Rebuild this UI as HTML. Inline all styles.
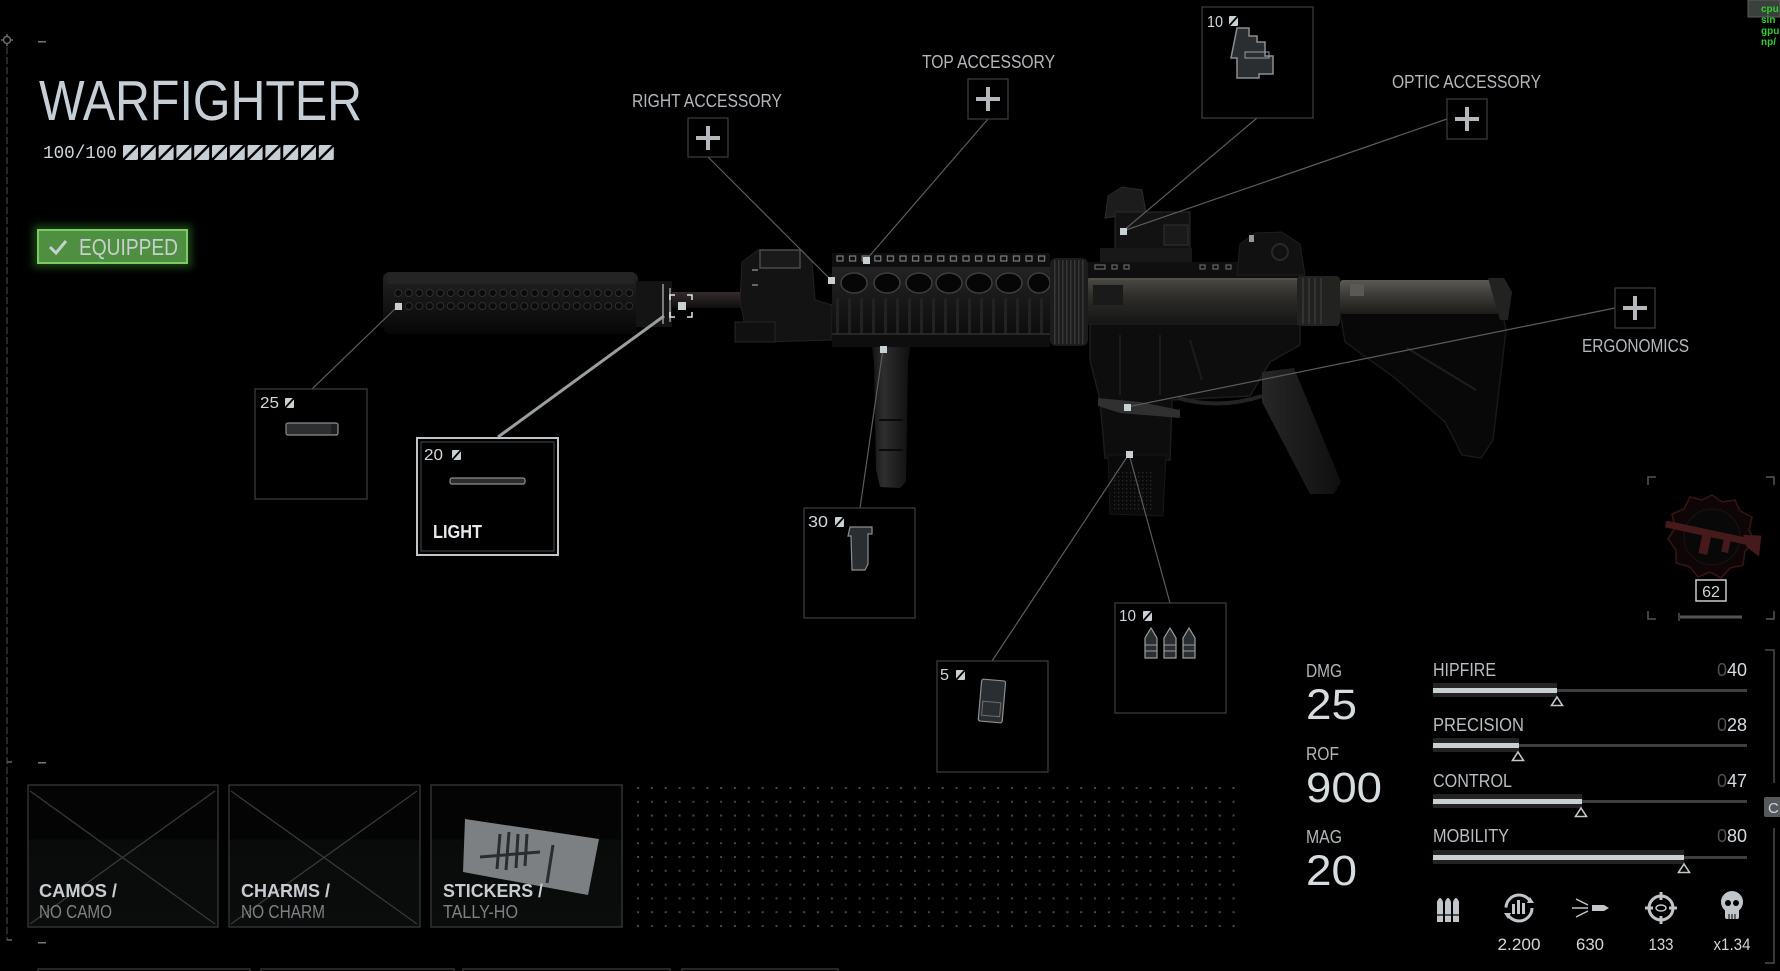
<!DOCTYPE html>
<html><head><meta charset="utf-8">
<style>
html,body{margin:0;padding:0;background:#000;overflow:hidden;}
svg{display:block;}
text{font-family:"Liberation Sans",sans-serif;}
.mono{font-family:"Liberation Mono","DejaVu Sans Mono",monospace;}
</style></head><body>
<svg width="1780" height="971" viewBox="0 0 1780 971" xmlns="http://www.w3.org/2000/svg">
<defs>
  <linearGradient id="gSup" x1="0" y1="0" x2="0" y2="1">
    <stop offset="0" stop-color="#242424"/><stop offset="0.3" stop-color="#1a1a1a"/>
    <stop offset="0.75" stop-color="#0e0e0e"/><stop offset="1" stop-color="#060606"/>
  </linearGradient>
  <linearGradient id="gUpper" x1="0" y1="0" x2="0" y2="1">
    <stop offset="0" stop-color="#4a4944"/><stop offset="0.4" stop-color="#2e2d2a"/>
    <stop offset="1" stop-color="#141413"/>
  </linearGradient>
  <linearGradient id="gTube" x1="0" y1="0" x2="0" y2="1">
    <stop offset="0" stop-color="#5a5953"/><stop offset="0.35" stop-color="#42413c"/>
    <stop offset="1" stop-color="#1c1b19"/>
  </linearGradient>
  <linearGradient id="gHand" x1="0" y1="0" x2="0" y2="1">
    <stop offset="0" stop-color="#232323"/><stop offset="1" stop-color="#0c0c0c"/>
  </linearGradient>
  <linearGradient id="gBarrel" x1="0" y1="0" x2="0" y2="1">
    <stop offset="0" stop-color="#342c2c"/><stop offset="1" stop-color="#100d0d"/>
  </linearGradient>
  <linearGradient id="gGrip" x1="0" y1="0" x2="1" y2="0">
    <stop offset="0" stop-color="#262626"/><stop offset="1" stop-color="#0f0f0f"/>
  </linearGradient>
  <linearGradient id="gFore" x1="0" y1="0" x2="1" y2="0">
    <stop offset="0" stop-color="#121212"/><stop offset="0.3" stop-color="#2e2e2e"/><stop offset="1" stop-color="#101010"/>
  </linearGradient>
  <linearGradient id="gBox" x1="0" y1="0" x2="0" y2="1">
    <stop offset="0" stop-color="#040404"/><stop offset="0.38" stop-color="#040404"/>
    <stop offset="0.39" stop-color="#090b0b"/><stop offset="1" stop-color="#0b0d0d"/>
  </linearGradient>
  <pattern id="dots" x="637" y="787" width="13.85" height="13.8" patternUnits="userSpaceOnUse">
    <rect width="2" height="2" fill="#474747"/>
  </pattern>
  <pattern id="holes" x="393" y="287" width="10.5" height="13" patternUnits="userSpaceOnUse">
    <circle cx="5.25" cy="6" r="3.5" fill="#0a0a0a" stroke="#2e2e2e" stroke-width="1"/>
  </pattern>
  <pattern id="rail" x="836" y="255" width="12.6" height="8" patternUnits="userSpaceOnUse">
    <rect x="1" y="1" width="6" height="5" fill="none" stroke="#7a7e7e" stroke-width="1.2"/>
  </pattern>
  <pattern id="ribs" x="836" y="300" width="12" height="40" patternUnits="userSpaceOnUse">
    <rect x="0" y="0" width="3" height="40" fill="#222"/>
  </pattern>
  <pattern id="nut" x="1050" y="258" width="4" height="10" patternUnits="userSpaceOnUse">
    <rect x="0" y="0" width="1.5" height="10" fill="#383838"/>
  </pattern>
  <pattern id="magdots" x="1110" y="460" width="4" height="4" patternUnits="userSpaceOnUse">
    <rect width="1.3" height="1.3" fill="#2a2a2a"/>
  </pattern>
  <filter id="glow" x="-20%" y="-50%" width="140%" height="200%">
    <feGaussianBlur stdDeviation="4"/>
  </filter>
</defs>

<rect width="1780" height="971" fill="#000"/>

<!-- left frame -->
<line x1="7" y1="47" x2="7" y2="940" stroke="#353535" stroke-width="1.5" stroke-dasharray="7 3"/>
<circle cx="7" cy="40" r="3.5" fill="none" stroke="#6a6a6a" stroke-width="1.5"/>
<path d="M7 34v3M7 43v3M1 40h3M10 40h3" stroke="#6a6a6a" stroke-width="1.5"/>
<rect x="38" y="41" width="8" height="1.5" fill="#777"/>
<path d="M7 762h5" stroke="#666" stroke-width="1.5"/>
<path d="M7 940h5" stroke="#666" stroke-width="1.5"/>
<rect x="38" y="762" width="8" height="1.5" fill="#777"/>
<rect x="38" y="942" width="8" height="1.5" fill="#777"/>

<!-- title -->
<text x="39" y="120" font-size="57" fill="#c6cfd5" textLength="323" lengthAdjust="spacingAndGlyphs">WARFIGHTER</text>
<text x="43" y="158" font-size="18" class="mono" fill="#d0d6da" textLength="74" lengthAdjust="spacingAndGlyphs">100/100</text>
<g fill="#c6cfd5">
  <rect x="123" y="145" width="15" height="15" rx="1.5"/><rect x="140.8" y="145" width="15" height="15" rx="1.5"/>
  <rect x="158.6" y="145" width="15" height="15" rx="1.5"/><rect x="176.4" y="145" width="15" height="15" rx="1.5"/>
  <rect x="194.2" y="145" width="15" height="15" rx="1.5"/><rect x="212" y="145" width="15" height="15" rx="1.5"/>
  <rect x="229.8" y="145" width="15" height="15" rx="1.5"/><rect x="247.6" y="145" width="15" height="15" rx="1.5"/>
  <rect x="265.4" y="145" width="15" height="15" rx="1.5"/><rect x="283.2" y="145" width="15" height="15" rx="1.5"/>
  <rect x="301" y="145" width="15" height="15" rx="1.5"/><rect x="318.8" y="145" width="15" height="15" rx="1.5"/>
</g>
<g stroke="#000" stroke-width="2.5">
  <path d="M123 160L138 145M140.8 160L155.8 145M158.6 160L173.6 145M176.4 160L191.4 145M194.2 160L209.2 145M212 160L227 145M229.8 160L244.8 145M247.6 160L262.6 145M265.4 160L280.4 145M283.2 160L298.2 145M301 160L316 145M318.8 160L333.8 145"/>
</g>

<!-- equipped -->
<rect x="33" y="225" width="159" height="43" fill="#3f8a30" opacity="0.45" filter="url(#glow)"/>
<rect x="38" y="230" width="149" height="33" fill="#4f8f42" stroke="#7acd62" stroke-width="2"/>
<path d="M50 247L56 253L66 241" fill="none" stroke="#c8d0cc" stroke-width="3"/>
<text x="79" y="255" font-size="23" fill="#c8d0cc" textLength="99" lengthAdjust="spacingAndGlyphs">EQUIPPED</text>

<!-- ===== GUN ===== -->
<g>
  <!-- stock lower body -->
  <polygon points="1340,312 1500,300 1506,330 1493,440 1481,458 1462,455 1445,422 1395,378 1345,342" fill="#080808" stroke="#181818" stroke-width="1.5"/>
  <path d="M1407 348L1476 390" stroke="#1e1e1e" stroke-width="2"/>
  <!-- suppressor -->
  <rect x="383" y="272" width="255" height="62" rx="7" fill="url(#gSup)"/>
  <rect x="388" y="273" width="246" height="11" fill="#262626" opacity="0.8"/>
  <rect x="393" y="287" width="240" height="26" fill="url(#holes)"/>
  <rect x="636" y="281" width="36" height="46" fill="#141414"/>
  <path d="M663 284v40M670 288v34" stroke="#7a7a7a" stroke-width="2"/>
  <!-- barrel -->
  <rect x="672" y="292" width="100" height="16" fill="url(#gBarrel)"/>
  <!-- front sight -->
  <polygon points="742,262 758,250 802,250 812,262 815,300 832,305 832,340 762,342 746,332 740,300" fill="#131313" stroke="#222"/>
  <rect x="760" y="250" width="40" height="18" fill="#1a1a1a" stroke="#4a4a4a" stroke-width="1.5"/>
  <rect x="735" y="322" width="40" height="20" fill="#101010" stroke="#262626"/>
  <path d="M752 270h6M752 285h6" stroke="#666" stroke-width="2"/>
  <!-- handguard -->
  <rect x="832" y="253" width="218" height="15" fill="#0e0e0e"/>
  <rect x="836" y="255" width="210" height="8" fill="url(#rail)"/>
  <rect x="832" y="267" width="218" height="70" fill="url(#gHand)"/>
  <g fill="#060606" stroke="#3e3e3e" stroke-width="1.5">
    <ellipse cx="854" cy="283" rx="13" ry="10"/><ellipse cx="887" cy="283" rx="13" ry="10"/>
    <ellipse cx="919" cy="283" rx="13" ry="10"/><ellipse cx="949" cy="283" rx="13" ry="10"/>
    <ellipse cx="979" cy="283" rx="13" ry="10"/><ellipse cx="1009" cy="283" rx="13" ry="10"/>
    <ellipse cx="1039" cy="283" rx="11" ry="10"/>
  </g>
  <rect x="836" y="298" width="210" height="36" fill="url(#ribs)"/>
  <rect x="832" y="334" width="218" height="13" fill="#0e0e0e"/>
  <path d="M832 334h218" stroke="#2e2e2e" stroke-width="1.5"/>
  <!-- barrel nut -->
  <rect x="1050" y="258" width="38" height="88" rx="6" fill="#1c1c1c"/>
  <rect x="1052" y="260" width="34" height="84" fill="url(#nut)"/>
  <!-- upper receiver -->
  <rect x="1088" y="262" width="215" height="17" fill="#0f0f0f"/>
  <g fill="none" stroke="#666" stroke-width="1.2">
    <rect x="1095" y="265" width="10" height="4"/><rect x="1112" y="265" width="5" height="4"/><rect x="1124" y="265" width="5" height="4"/>
    <rect x="1200" y="265" width="5" height="4"/><rect x="1213" y="265" width="5" height="4"/><rect x="1226" y="265" width="5" height="4"/>
  </g>
  <rect x="1088" y="278" width="212" height="47" fill="url(#gUpper)"/>
  <path d="M1090 279h208" stroke="#55544e" stroke-width="1.5"/>
  <rect x="1093" y="285" width="30" height="20" fill="#1a1a1a"/>
  <!-- optic -->
  <path d="M1105 218L1108 196L1122 187L1142 190L1146 212Z" fill="#1c1c1c" stroke="#2a2a2a"/>
  <rect x="1115" y="212" width="75" height="40" fill="#121212" stroke="#2a2a2a"/>
  <rect x="1100" y="248" width="92" height="14" fill="#181818"/>
  <rect x="1164" y="225" width="24" height="20" fill="#1a1a1a" stroke="#333"/>
  <!-- rear sight -->
  <polygon points="1237,275 1240,244 1255,233 1282,232 1300,244 1305,275" fill="#111" stroke="#1e1e1e"/>
  <rect x="1249" y="235" width="5" height="7" fill="#999"/>
  <circle cx="1280" cy="252" r="8" fill="none" stroke="#2a2a2a" stroke-width="2"/>
  <!-- lower receiver -->
  <polygon points="1090,324 1300,324 1300,345 1270,362 1250,396 1172,400 1170,460 1105,458 1100,400 1090,360" fill="#0d0d0d" stroke="#1c1c1c" stroke-width="1.5"/>
  <path d="M1120 335v60M1160 335v60M1190 340l12 40" stroke="#1c1c1c" stroke-width="2"/>
  <path d="M1178 398Q1220 410 1262 396" fill="none" stroke="#242424" stroke-width="4"/>
  <polygon points="1098,398 1140,402 1180,410 1180,418 1120,413 1098,406" fill="#303030"/>
  <!-- magazine -->
  <polygon points="1108,455 1166,455 1163,516 1110,514" fill="#0a0a0a" stroke="#161616"/>
  <rect x="1112" y="470" width="40" height="40" fill="url(#magdots)"/>
  <!-- pistol grip -->
  <polygon points="1262,372 1294,368 1341,482 1334,494 1310,494 1262,402" fill="url(#gGrip)"/>
  <!-- buffer ring + tube -->
  <rect x="1297" y="276" width="43" height="50" rx="4" fill="#222220"/>
  <path d="M1303 278v46M1309 278v46M1315 278v46M1321 278v46" stroke="#34332f" stroke-width="2"/>
  <rect x="1340" y="280" width="162" height="34" rx="3" fill="url(#gTube)"/>
  <rect x="1350" y="284" width="14" height="12" fill="#5a5954"/>
  <polygon points="1488,278 1504,278 1512,292 1508,320 1500,320" fill="#222220"/>
  <!-- foregrip -->
  <polygon points="872,347 910,347 908,362 906,482 900,488 880,487 876,470 874,362" fill="url(#gFore)"/>
  <path d="M879 420h24M879 450h24" stroke="#0a0a0a" stroke-width="2"/>
</g>

<!-- connectors -->
<g stroke="#5c5c5c" stroke-width="1.2" fill="none">
  <line x1="312" y1="389" x2="398" y2="306"/>
  <line x1="708" y1="157" x2="831" y2="280"/>
  <line x1="988" y1="119" x2="866" y2="260"/>
  <line x1="1257" y1="118" x2="1123" y2="231"/>
  <line x1="1447" y1="119" x2="1123" y2="231"/>
  <line x1="1615" y1="308" x2="1127" y2="407"/>
  <line x1="860" y1="508" x2="883" y2="349"/>
  <line x1="992" y1="661" x2="1129" y2="454"/>
  <line x1="1170" y1="603" x2="1129" y2="454"/>
</g>
<line x1="498" y1="437" x2="664" y2="316" stroke="#9a9ea0" stroke-width="3"/>

<!-- dots -->
<g fill="#c8d0d4">
  <rect x="395" y="303" width="7" height="7"/>
  <rect x="678" y="302" width="8" height="8"/>
  <rect x="828" y="277" width="7" height="7"/>
  <rect x="863" y="257" width="7" height="7"/>
  <rect x="1120" y="228" width="7" height="7"/>
  <rect x="880" y="346" width="7" height="7"/>
  <rect x="1124" y="404" width="7" height="7"/>
  <rect x="1126" y="451" width="7" height="7"/>
</g>
<path d="M670 300v-5h5M687 295h5v5M692 312v5h-5M675 317h-5v-5" fill="none" stroke="#e0e4e6" stroke-width="1.5"/>

<!-- plus boxes -->
<g fill="#000" stroke="#3e4042" stroke-width="1.2">
  <rect x="688" y="118" width="40" height="39"/>
  <rect x="968" y="79" width="40" height="40"/>
  <rect x="1447" y="99" width="40" height="40"/>
  <rect x="1615" y="288" width="40" height="40"/>
</g>
<g fill="#b4b8bc">
  <rect x="696" y="136" width="24" height="4"/><rect x="706" y="126" width="4" height="24"/>
  <rect x="976" y="97" width="24" height="4"/><rect x="986" y="87" width="4" height="24"/>
  <rect x="1455" y="117" width="24" height="4"/><rect x="1465" y="107" width="4" height="24"/>
  <rect x="1623" y="306" width="24" height="4"/><rect x="1633" y="296" width="4" height="24"/>
</g>
<g fill="#b4b8bc" font-size="18">
  <text x="632" y="107" textLength="150" lengthAdjust="spacingAndGlyphs">RIGHT ACCESSORY</text>
  <text x="922" y="68" textLength="133" lengthAdjust="spacingAndGlyphs">TOP ACCESSORY</text>
  <text x="1392" y="88" textLength="149" lengthAdjust="spacingAndGlyphs">OPTIC ACCESSORY</text>
  <text x="1582" y="352" textLength="107" lengthAdjust="spacingAndGlyphs">ERGONOMICS</text>
</g>

<!-- item boxes -->
<g fill="#000" stroke="#3e4042" stroke-width="1.2">
  <rect x="255" y="389" width="112" height="110"/>
  <rect x="804" y="508" width="111" height="110"/>
  <rect x="937" y="661" width="111" height="111"/>
  <rect x="1115" y="603" width="111" height="110"/>
  <rect x="1202" y="7" width="111" height="111"/>
</g>
<rect x="417" y="438" width="141" height="117" fill="#000" stroke="#c0c4c6" stroke-width="2"/>
<rect x="421" y="442" width="133" height="109" fill="none" stroke="#4a4c4e" stroke-width="1"/>

<g fill="#d0d6da" font-size="16">
  <text x="260" y="408" textLength="19" lengthAdjust="spacingAndGlyphs">25</text>
  <text x="424" y="460" textLength="19" lengthAdjust="spacingAndGlyphs">20</text>
  <text x="808" y="527" textLength="20" lengthAdjust="spacingAndGlyphs">30</text>
  <text x="940" y="680" textLength="9" lengthAdjust="spacingAndGlyphs">5</text>
  <text x="1119" y="621" textLength="17" lengthAdjust="spacingAndGlyphs">10</text>
  <text x="1207" y="27" textLength="16" lengthAdjust="spacingAndGlyphs">10</text>
</g>
<g fill="#c8d0d4">
  <rect x="285" y="398" width="9" height="10" rx="1"/><rect x="452" y="450" width="9" height="10" rx="1"/>
  <rect x="835" y="517" width="9" height="10" rx="1"/><rect x="956" y="670" width="9" height="10" rx="1"/>
  <rect x="1143" y="611" width="9" height="10" rx="1"/><rect x="1229" y="16" width="9" height="10" rx="1"/>
</g>
<g stroke="#000" stroke-width="1.8">
  <path d="M285 408L294 398M452 460L461 450M835 527L844 517M956 680L965 670M1143 621L1152 611M1229 26L1238 16"/>
</g>
<text x="433" y="538" font-size="18" font-weight="bold" fill="#e6eaec" textLength="49" lengthAdjust="spacingAndGlyphs">LIGHT</text>

<!-- item icons -->
<rect x="286" y="423" width="52" height="12" rx="2" fill="#2c2e30" stroke="#8a8e90" stroke-width="1.2"/>
<rect x="331" y="424" width="6" height="10" fill="#1c1e20"/>
<rect x="450" y="478" width="75" height="6" rx="2" fill="#2a2c2e" stroke="#8a8e90" stroke-width="1.2"/>
<path d="M850 527h22v7h-4v30l-3 6h-13l-1-34h-3z" fill="#2a2e30" stroke="#8a8e90" stroke-width="1.2"/>
<g transform="rotate(5 992 700)">
  <rect x="980" y="680" width="24" height="42" rx="2" fill="#2a2e30" stroke="#8a8e90" stroke-width="1.2"/>
  <rect x="983" y="702" width="18" height="14" fill="none" stroke="#6a6e70"/>
</g>
<g fill="#2a2e30" stroke="#9a9ea0" stroke-width="1.2">
  <path d="M1145 658v-20l6-10l6 10v20z"/><path d="M1164 658v-20l6-10l6 10v20z"/><path d="M1183 658v-20l6-10l6 10v20z"/>
</g>
<path d="M1145 645h12M1145 651h12M1164 645h12M1164 651h12M1183 645h12M1183 651h12" stroke="#9a9ea0" stroke-width="1"/>
<path d="M1237 28h12v8h8v6h8v14h8v18h-14v4h-22v-20h-6z" fill="#2a2e30" stroke="#8a8e90" stroke-width="1.5"/>
<rect x="1245" y="52" width="24" height="6" fill="none" stroke="#9a9ea0"/>

<!-- prestige emblem -->
<path d="M1648 485v-8h8M1766 477h8v8M1774 611v8h-8M1656 619h-8v-8" fill="none" stroke="#555" stroke-width="1.5"/>
<polygon points="1712,495 1722,502 1735,500 1740,511 1752,517 1749,530 1755,542 1745,551 1743,565 1730,568 1721,578 1710,572 1698,577 1690,567 1676,563 1676,550 1668,539 1675,528 1672,514 1684,509 1690,497 1702,500" fill="#0e0606" stroke="#3a1414" stroke-width="1.5"/>
<circle cx="1712" cy="537" r="28" fill="#080808" stroke="#221010"/>
<g transform="rotate(12 1710 537)" fill="#461a1a">
  <rect x="1664" y="530" width="88" height="7"/>
  <rect x="1702" y="535" width="9" height="20"/>
  <rect x="1724" y="535" width="7" height="14"/>
  <polygon points="1742,528 1760,525 1762,546 1748,539"/>
</g>
<rect x="1696" y="580" width="30" height="21" fill="#000" stroke="#c8ccd0" stroke-width="1.5"/>
<text x="1711" y="597" font-size="16" fill="#d0d4d6" text-anchor="middle">62</text>
<line x1="1680" y1="617" x2="1742" y2="617" stroke="#555" stroke-width="3"/>
<line x1="1679" y1="613" x2="1679" y2="621" stroke="#777" stroke-width="1"/>

<!-- stats left -->
<g fill="#b0b6ba" font-size="18">
  <text x="1306" y="677" textLength="36" lengthAdjust="spacingAndGlyphs">DMG</text>
  <text x="1306" y="760" textLength="33" lengthAdjust="spacingAndGlyphs">ROF</text>
  <text x="1306" y="843" textLength="36" lengthAdjust="spacingAndGlyphs">MAG</text>
</g>
<g fill="#d6dde1" font-size="43">
  <text x="1306" y="719" textLength="51" lengthAdjust="spacingAndGlyphs">25</text>
  <text x="1306" y="802" textLength="76" lengthAdjust="spacingAndGlyphs">900</text>
  <text x="1306" y="885" textLength="51" lengthAdjust="spacingAndGlyphs">20</text>
</g>

<!-- stat bars -->
<g fill="#b8bec2" font-size="18">
  <text x="1433" y="676" textLength="63" lengthAdjust="spacingAndGlyphs">HIPFIRE</text>
  <text x="1433" y="731" textLength="91" lengthAdjust="spacingAndGlyphs">PRECISION</text>
  <text x="1433" y="787" textLength="79" lengthAdjust="spacingAndGlyphs">CONTROL</text>
  <text x="1433" y="842" textLength="76" lengthAdjust="spacingAndGlyphs">MOBILITY</text>
</g>
<g font-size="18" text-anchor="end">
  <text x="1747" y="676"><tspan fill="#4c5154">0</tspan><tspan fill="#d6dde1">40</tspan></text>
  <text x="1747" y="731"><tspan fill="#4c5154">0</tspan><tspan fill="#d6dde1">28</tspan></text>
  <text x="1747" y="787"><tspan fill="#4c5154">0</tspan><tspan fill="#d6dde1">47</tspan></text>
  <text x="1747" y="842"><tspan fill="#4c5154">0</tspan><tspan fill="#d6dde1">80</tspan></text>
</g>
<g>
  <rect x="1433" y="689" width="314" height="3" fill="#3e3e3e"/>
  <rect x="1433" y="683" width="124" height="14" fill="#232323"/>
  <rect x="1433" y="688" width="124" height="5" fill="#c8d0d4"/>
  <rect x="1433" y="744" width="314" height="3" fill="#3e3e3e"/>
  <rect x="1433" y="738" width="86" height="14" fill="#232323"/>
  <rect x="1433" y="743" width="86" height="5" fill="#c8d0d4"/>
  <rect x="1433" y="800" width="314" height="3" fill="#3e3e3e"/>
  <rect x="1433" y="794" width="149" height="14" fill="#232323"/>
  <rect x="1433" y="799" width="149" height="5" fill="#c8d0d4"/>
  <rect x="1433" y="856" width="314" height="3" fill="#3e3e3e"/>
  <rect x="1433" y="850" width="251" height="14" fill="#232323"/>
  <rect x="1433" y="855" width="251" height="5" fill="#c8d0d4"/>
</g>
<g fill="none" stroke="#c0c6ca" stroke-width="1.6">
  <path d="M1557 697l5.5 8.5h-11z"/>
  <path d="M1518 752l5.5 8.5h-11z"/>
  <path d="M1581 808l5.5 8.5h-11z"/>
  <path d="M1684 864l5.5 8.5h-11z"/>
</g>

<!-- icons row -->
<g fill="#c0c6ca">
  <path d="M1437 922v-20q3-8 6-0v20z"/><path d="M1445 922v-20q3-8 6-0v20z"/><path d="M1453 922v-20q3-8 6-0v20z"/>
</g>
<path d="M1436 915h24" stroke="#000" stroke-width="1.2"/>
<circle cx="1519" cy="908" r="13" fill="none" stroke="#c0c6ca" stroke-width="3" stroke-dasharray="34 7"/>
<path d="M1530 897l4 6l-7 0z M1508 919l-4-6l7 0z" fill="#c0c6ca"/>
<g fill="#c0c6ca"><rect x="1512" y="904" width="3" height="10"/><rect x="1517" y="900" width="3" height="14"/><rect x="1522" y="903" width="3" height="11"/></g>
<path d="M1592 905h12l5 3l-5 3h-12z" fill="#c0c6ca"/>
<path d="M1576 899l12 6M1572 908h16M1576 917l12-6M1582 902l6 3" stroke="#c0c6ca" stroke-width="1.5"/>
<circle cx="1661" cy="908" r="12" fill="none" stroke="#c0c6ca" stroke-width="3"/>
<path d="M1661 892v8M1661 916v8M1645 908h8M1669 908h8" stroke="#c0c6ca" stroke-width="3"/>
<ellipse cx="1661" cy="908" rx="5" ry="3" fill="none" stroke="#c0c6ca" stroke-width="1.5"/>
<circle cx="1732" cy="902" r="11" fill="#c0c6ca"/>
<rect x="1725" y="906" width="14" height="13" rx="2" fill="#c0c6ca"/>
<circle cx="1728" cy="903" r="3" fill="#000"/><circle cx="1736" cy="903" r="3" fill="#000"/>
<path d="M1729 914v5M1732 914v5M1735 914v5" stroke="#000" stroke-width="1"/>
<g fill="#d0d6da" font-size="17" text-anchor="middle">
  <text x="1519" y="950" textLength="43" lengthAdjust="spacingAndGlyphs">2.200</text>
  <text x="1590" y="950" textLength="28" lengthAdjust="spacingAndGlyphs">630</text>
  <text x="1661" y="950" textLength="25" lengthAdjust="spacingAndGlyphs">133</text>
  <text x="1732" y="950" textLength="37" lengthAdjust="spacingAndGlyphs">x1.34</text>
</g>

<!-- right bracket + C tab -->
<path d="M1765 650h9v133M1774 828v135h-9" fill="none" stroke="#4a4a4a" stroke-width="1.5"/>
<rect x="1764" y="797" width="18" height="20" rx="2" fill="#55595b"/>
<text x="1768" y="813" font-size="15" fill="#d0d4d6">C</text>

<!-- dot grid -->
<rect x="637" y="787" width="598" height="141" fill="url(#dots)"/>

<!-- bottom cards -->
<g stroke="#3a3c3e" stroke-width="1.2">
  <rect x="28" y="785" width="190" height="142" fill="url(#gBox)"/>
  <rect x="229" y="785" width="191" height="142" fill="url(#gBox)"/>
  <rect x="431" y="785" width="191" height="142" fill="url(#gBox)"/>
</g>
<g stroke="#363839" stroke-width="1.3">
  <path d="M30 791L215 924M215 791L30 924"/>
  <path d="M231 791L417 924M417 791L231 924"/>
</g>
<polygon points="465,819 599,839 588,895 463,872" fill="#7c8083"/>
<path d="M480 857L540 852M500 834l-3 35M509 832l-3 38M518 834l-2 34M527 834l-2 32M553 845l-6 38" stroke="#2a2c2e" stroke-width="3" fill="none"/>
<g font-size="18">
  <text x="39" y="897" font-weight="bold" fill="#c8ccd0" textLength="78" lengthAdjust="spacingAndGlyphs">CAMOS /</text>
  <text x="39" y="918" fill="#7d8184" textLength="73" lengthAdjust="spacingAndGlyphs">NO CAMO</text>
  <text x="241" y="897" font-weight="bold" fill="#c8ccd0" textLength="89" lengthAdjust="spacingAndGlyphs">CHARMS /</text>
  <text x="241" y="918" fill="#7d8184" textLength="84" lengthAdjust="spacingAndGlyphs">NO CHARM</text>
  <text x="443" y="897" font-weight="bold" fill="#c8ccd0" textLength="100" lengthAdjust="spacingAndGlyphs">STICKERS /</text>
  <text x="443" y="918" fill="#7d8184" textLength="75" lengthAdjust="spacingAndGlyphs">TALLY-HO</text>
</g>
<g fill="none" stroke="#3a3c3e" stroke-width="1.2">
  <rect x="38" y="969" width="212" height="20"/>
  <rect x="261" y="969" width="193" height="20"/>
  <rect x="463" y="969" width="207" height="20"/>
  <rect x="682" y="969" width="156" height="20"/>
</g>

<!-- debug overlay -->
<rect x="1748" y="0" width="32" height="17" fill="#3c403c" stroke="#5a5e5a"/>
<g class="mono" font-size="10" font-weight="bold" fill="#2fd02f">
  <text x="1761" y="12">cpu</text>
  <text x="1761" y="23">sin</text>
  <text x="1761" y="34">gpu</text>
  <text x="1761" y="45">np/</text>
</g>
</svg>
</body></html>
